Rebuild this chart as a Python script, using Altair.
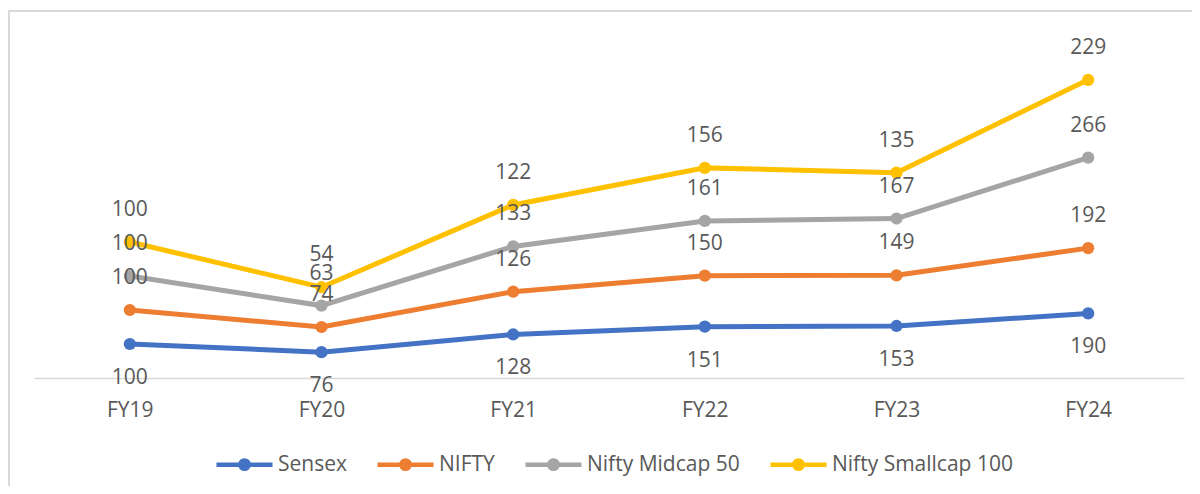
import altair as alt
import pandas as pd

years = ["FY19", "FY20", "FY21", "FY22", "FY23", "FY24"]
series = ["Sensex", "NIFTY", "Nifty Midcap 50", "Nifty Smallcap 100"]
sensex = [100, 76, 128, 151, 153, 190]
nifty = [100, 74, 126, 150, 149, 192]
midcap = [100, 63, 133, 161, 167, 266]
smallcap = [100, 54, 122, 156, 135, 229]
colors = ["#4472C4", "#ED7D31", "#A5A5A5", "#FFC000"]

rows = []
for si, (name, vals) in enumerate(zip(series, [sensex, nifty, midcap, smallcap])):
    for y, v in zip(years, vals):
        rows.append({"year": y, "series": name, "value": v, "order": si})
df = pd.DataFrame(rows)

FONT = "Open Sans"
TXT = "#595959"

sym_path = "M-1,0L1,0M-0.15,0A0.15,0.15,0,1,1,0.15,0A0.15,0.15,0,1,1,-0.15,0Z"

color = alt.Color(
    "series:N",
    scale=alt.Scale(domain=series, range=colors),
    legend=alt.Legend(
        title=None,
        orient="none",
        legendX=180,
        legendY=396,
        direction="horizontal",
        columns=4,
        symbolType=sym_path,
        symbolSize=3136,
        symbolStrokeWidth=4.5,
        labelFont=FONT,
        labelFontSize=21,
        labelColor=TXT,
        labelOffset=3,
        columnPadding=21,
        labelLimit=400,
    ),
)

x = alt.X(
    "year:N",
    sort=years,
    scale=alt.Scale(type="point", padding=0.5),
    axis=alt.Axis(
        title=None,
        ticks=False,
        grid=False,
        domainColor="#D9D9D9",
        domainWidth=1.5,
        labelFont=FONT,
        labelFontSize=21,
        labelColor=TXT,
        labelPadding=21,
        labelAngle=0,
    ),
)
y = alt.Y("y1:Q", scale=alt.Scale(domain=[0, 1000]), axis=None)

base = alt.Chart(df).transform_stack(
    stack="value", groupby=["year"], as_=["y0", "y1"], sort=[alt.SortField("order")]
)

lines = base.mark_line(strokeWidth=5).encode(x=x, y=y, color=color, detail="series:N")
points = base.mark_circle(size=150, opacity=1).encode(x=x, y=y, color=color)

labels_below = base.mark_text(font=FONT, fontSize=21, color=TXT, baseline="middle", dy=34).encode(
    x=x, y=y, text="value:Q"
).transform_filter(alt.datum.order == 0)
labels_above = base.mark_text(font=FONT, fontSize=21, color=TXT, baseline="middle", dy=-32).encode(
    x=x, y=y, text="value:Q"
).transform_filter(alt.datum.order > 0)

frame_left = alt.Chart(df).mark_rule(color="#D9D9D9", strokeWidth=2).encode(
    x=alt.value(-25), y=alt.value(-27), y2=alt.value(460)
)
frame_top = alt.Chart(df).mark_rule(color="#D9D9D9", strokeWidth=1.5).encode(
    x=alt.value(-26), x2=alt.value(1170), y=alt.value(-27)
)

chart = (
    alt.layer(frame_left, frame_top, lines, points, labels_below, labels_above)
    .properties(
        width=1150,
        height=340,
        autosize=alt.AutoSizeParams(type="none"),
        padding={"left": 26, "top": 30, "right": 8, "bottom": 108},
    )
    .configure_view(stroke=None)
)

chart.save("out.html", embed_options={"renderer": "svg", "actions": False})
